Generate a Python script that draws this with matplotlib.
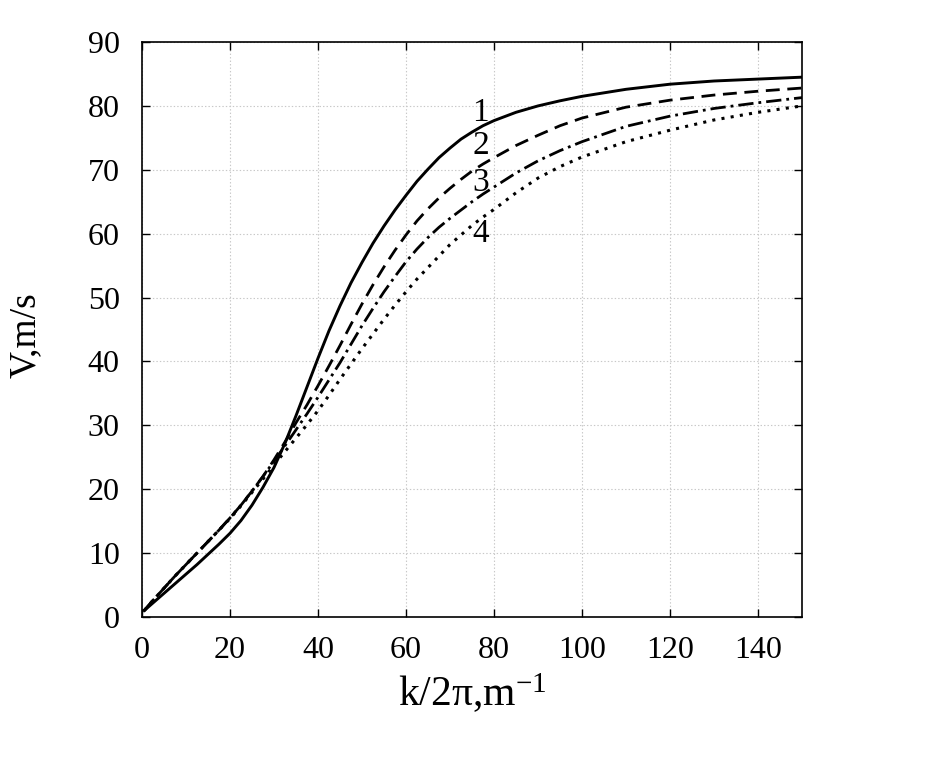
import matplotlib
matplotlib.use("Agg")
import matplotlib.pyplot as plt

plt.rcParams['font.family'] = ['Liberation Serif', 'DejaVu Serif']
plt.rcParams['mathtext.fontset'] = 'custom'
plt.rcParams['mathtext.rm'] = 'Liberation Serif'
plt.rcParams['mathtext.it'] = 'Liberation Serif'
plt.rcParams['lines.scale_dashes'] = False

k = [0.5, 2.5, 5, 7.5, 10, 12.5, 15, 17.5, 20, 22.5, 25, 27.5, 30, 32.5, 35,
     37.5, 40, 42.5, 45, 47.5, 50, 52.5, 55, 57.5, 60, 62.5, 65, 67.5, 70,
     72.5, 75, 77.5, 80, 85, 90, 95, 100, 110, 120, 130, 140, 150]
v1 = [1.0, 2.2, 3.7, 5.2, 6.7, 8.2, 9.8, 11.4, 13.1, 15.1, 17.5, 20.3, 23.4,
      27.2, 31.5, 36.0, 40.5, 44.8, 48.7, 52.3, 55.5, 58.5, 61.2, 63.7, 66.0,
      68.2, 70.1, 71.9, 73.4, 74.8, 75.9, 76.9, 77.7, 79.0, 80.0, 80.8, 81.5,
      82.6, 83.4, 83.9, 84.2, 84.5]
v2 = [1.0, 2.6, 4.5, 6.4, 8.2, 10.0, 11.8, 13.6, 15.5, 17.5, 19.7, 22.0, 24.6,
      27.4, 30.4, 33.2, 36.2, 39.3, 42.5, 45.8, 49.0, 52.0, 54.8, 57.4, 59.8,
      62.0, 63.9, 65.6, 67.1, 68.5, 69.8, 70.9, 71.9, 73.8, 75.4, 76.9, 78.1,
      79.8, 80.9, 81.7, 82.3, 82.8]
v3 = [1.0, 2.6, 4.5, 6.4, 8.2, 10.0, 11.8, 13.6, 15.5, 17.5, 19.7, 22.0, 24.4,
      26.8, 29.3, 31.8, 34.4, 37.1, 39.8, 42.7, 45.6, 48.3, 50.9, 53.3, 55.6,
      57.6, 59.4, 61.0, 62.4, 63.7, 65.0, 66.2, 67.3, 69.5, 71.4, 73.0, 74.4,
      76.8, 78.4, 79.6, 80.5, 81.3]
v4 = [1.0, 2.6, 4.5, 6.4, 8.2, 10.0, 11.8, 13.6, 15.4, 17.4, 19.5, 21.6, 23.8,
      25.9, 28.0, 30.1, 32.3, 34.7, 37.2, 39.6, 42.0, 44.3, 46.6, 48.8, 50.9,
      52.9, 54.7, 56.5, 58.3, 59.8, 61.3, 62.6, 63.8, 66.4, 68.7, 70.5, 72.0,
      74.4, 76.2, 77.8, 79.0, 80.0]

curve_labels = ['1', '2', '3', '4']
label_x = [77, 77, 77, 77]
label_y = [79.0, 73.7, 67.9, 60.0]

xticks = [0, 20, 40, 60, 80, 100, 120, 140]
yticks = [0, 10, 20, 30, 40, 50, 60, 70, 80, 90]

fig = plt.figure(figsize=(9.44, 7.67), dpi=100)
ax = fig.add_axes([0.1504, 0.1956, 0.6992, 0.7496])

ax.grid(True, color='#c8c8c8', linestyle=(0, (1.0, 1.5)), linewidth=0.8)
ax.set_axisbelow(True)

ax.plot(k, v1, color='black', lw=2.1, linestyle='-')
ax.plot(k, v2, color='black', lw=2.0, linestyle=(0, (10, 5.5)))
ax.plot(k, v3, color='black', lw=2.0, linestyle=(0, (11, 3.6, 2, 3.6)))
ax.plot(k, v4, color='black', lw=2.2, linestyle=(0, (2.2, 4.5)))

for t, x, y in zip(curve_labels, label_x, label_y):
    ax.text(x, y, t, fontsize=24, ha='center', va='center')

ax.set_xlim(0, 150)
ax.set_ylim(0, 90)
ax.set_xticks(xticks)
ax.set_yticks(yticks)
ax.tick_params(direction='in', top=True, right=True, length=6, width=1,
               labelsize=23)
ax.tick_params(axis='x', pad=14)
ax.tick_params(axis='y', pad=16)
for s in ax.spines.values():
    s.set_linewidth(1.2)

ax.set_xlabel('k/2π,m$^{-1}$', fontsize=30, labelpad=4)
ax.set_ylabel('V,m/s', fontsize=27)
ax.yaxis.set_label_coords(-0.150, 0.49)

fig.savefig('out.png', dpi=100)
